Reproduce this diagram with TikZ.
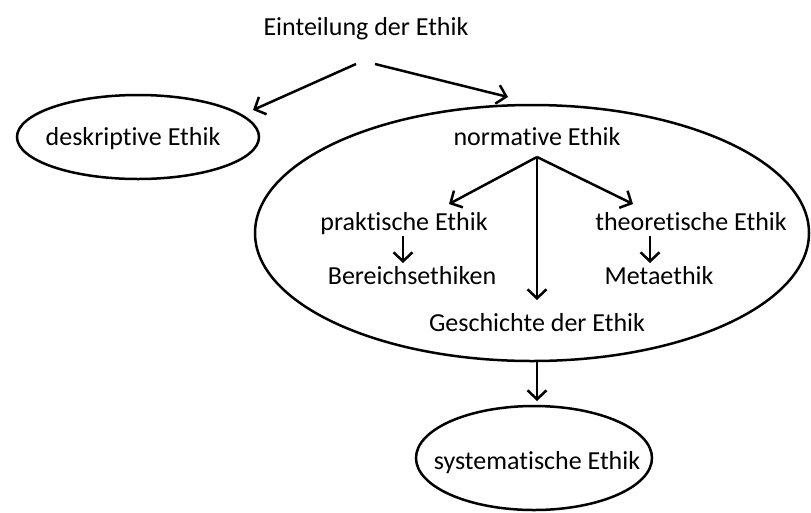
\documentclass[tikz,border=0pt]{standalone}
\usepackage{fontspec}
\setmainfont{Carlito}[Ligatures={NoCommon}]
\usetikzlibrary{arrows.meta,shapes.geometric}
\begin{document}
\begin{tikzpicture}[x=1pt,y=-1pt,
  lbl/.style={font=\fontsize{26}{30}\selectfont, inner sep=0pt, anchor=base},
  ell/.style={draw, line width=2.5pt, ellipse},
  arr/.style={draw, line width=2.5pt, -{Straight Barb[length=9pt,width=19pt,line width=2.5pt]}}]
\useasboundingbox (0,0) rectangle (811,512);
\node[lbl] (title) at (366,35) {Einteilung der Ethik};
\draw[ell] (138,137) ellipse [x radius=121, y radius=42];
\node[lbl] (desk) at (133,145) {deskriptive Ethik};
\draw[ell] (532,233) ellipse [x radius=277, y radius=128];
\node[lbl] (norm) at (537,145) {normative Ethik};
\node[lbl] (prak) at (404,230) {praktische Ethik};
\node[lbl] (theo) at (691,230) {theoretische Ethik};
\node[lbl] (ber) at (412,284) {Bereichsethiken};
\node[lbl] (meta) at (659,284) {Metaethik};
\node[lbl] (gesch) at (537,331) {Geschichte der Ethik};
\draw[ell] (534,458) ellipse [x radius=118, y radius=52];
\node[lbl] (sys) at (537,469) {systematische Ethik};
\coordinate (tl) at (356,64);
\coordinate (tr) at (375,64);
\coordinate (deskin) at (253,110);
\coordinate (normin) at (508,97);
\coordinate (nb) at (537,157);
\coordinate (pin) at (449,204);
\coordinate (tin) at (633,204);
\coordinate (gin) at (537,300);
\coordinate (ps) at (403,236);
\coordinate (bin) at (403,263);
\coordinate (ts) at (650,236);
\coordinate (min) at (650,263);
\coordinate (bigb) at (537,362);
\coordinate (sysin) at (537,401);
\draw[arr] (tl) -- (deskin);
\draw[arr] (tr) -- (normin);
\draw[arr] (nb) -- (pin);
\draw[arr] (nb) -- (tin);
\draw[arr] (nb) -- (gin);
\draw[arr] (ps) -- (bin);
\draw[arr] (ts) -- (min);
\draw[arr] (bigb) -- (sysin);
\end{tikzpicture}
\end{document}
